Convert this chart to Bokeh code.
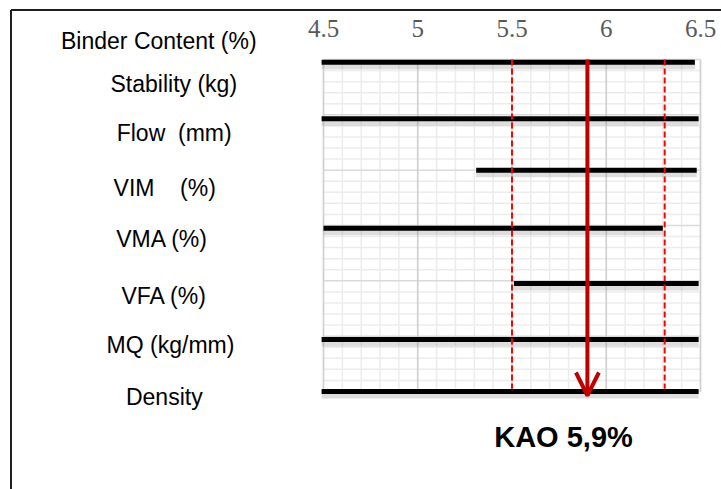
import numpy as np
from bokeh.plotting import figure
from bokeh.models import Range1d, Arrow, OpenHead
from bokeh.core.properties import value
from bokeh.embed import file_html
from bokeh.resources import INLINE

# ---------------- data ----------------
axis_title = "Binder Content (%)"
properties = ["Stability (kg)", "Flow\u00a0 (mm)", "VIM\u00a0\u00a0\u00a0 (%)", "VMA (%)",
              "VFA (%)", "MQ (kg/mm)", "Density"]
range_start = [4.49, 4.49, 5.31, 4.50, 5.51, 4.49, 4.49]
range_end = [6.47, 6.49, 6.48, 6.30, 6.49, 6.49, 6.49]
bar_row = [0.05, 1.07, 2.00, 3.05, 4.05, 5.06, 6.00]
tick_values = [4.5, 5.0, 5.5, 6.0, 6.5]
tick_labels = ["4.5", "5", "5.5", "6", "6.5"]
limit_lines = [5.5, 6.31]
optimum = 5.9
optimum_label = "KAO 5,9%"

# ---------------- layout ----------------
W, H = 721, 489
X0PX, XS = 323.0, 188.5     # page px of x=4.5, px per unit
Y0PX, YS = 59.0, 55.33      # page px of y=0, px per unit (downwards)


def dx(wx):
    return 4.5 + (wx - X0PX) / XS


def dy(wy):
    return (wy - Y0PX) / YS


p = figure(width=W, height=H,
           x_range=Range1d(dx(0), dx(W)),
           y_range=Range1d(dy(H), dy(0)),
           output_backend="svg", toolbar_location=None,
           x_axis_location=None, y_axis_location=None,
           min_border=0, outline_line_color=None,
           background_fill_color="white", border_fill_color="white")
p.xgrid.visible = False
p.ygrid.visible = False

g_left, g_right = tick_values[0], tick_values[-1]
g_top, g_bottom = 0, 6

# minor grid
x_minor = [round(v, 2) for v in np.arange(g_left, g_right + 1e-6, 0.1)
           if min(abs(v - t) for t in tick_values) > 1e-6]
y_minor = [round(v, 2) for v in np.arange(g_top, g_bottom + 1e-6, 0.2)
           if abs(v - round(v)) > 1e-6]
y_major = list(range(g_top, g_bottom + 1))

p.segment(x0=x_minor, y0=[g_top] * len(x_minor), x1=x_minor,
          y1=[g_bottom] * len(x_minor), line_color="#ececec", line_width=1.5)
p.segment(x0=[g_left] * len(y_minor), y0=y_minor, x1=[g_right] * len(y_minor),
          y1=y_minor, line_color="#ececec", line_width=1.5)
# major grid
p.segment(x0=[g_left] * len(y_major), y0=y_major, x1=[g_right] * len(y_major),
          y1=y_major, line_color="#dadada", line_width=1.5)
p.segment(x0=tick_values, y0=[g_top] * len(tick_values), x1=tick_values,
          y1=[g_bottom] * len(tick_values), line_color="#d0d0d0", line_width=1.7)

# bar shadows
shadow_dy = 3.0 / YS
p.segment(x0=range_start, y0=[b + shadow_dy for b in bar_row],
          x1=range_end, y1=[b + shadow_dy for b in bar_row],
          line_color="#7a7a7a", line_alpha=0.25, line_width=8)
# bars
p.segment(x0=range_start, y0=bar_row, x1=range_end, y1=bar_row,
          line_color="black", line_width=5, line_cap="butt")

# limit lines
p.segment(x0=limit_lines, y0=[g_top] * 2, x1=limit_lines, y1=[5.95] * 2,
          line_color="#ff0000", line_width=2, line_dash="6 3")

# optimum arrow
p.add_layout(Arrow(end=OpenHead(size=23, line_color="#c00000", line_width=4),
                   x_start=optimum, y_start=g_top, x_end=optimum, y_end=dy(395),
                   line_color="#c00000", line_width=4))

# tick labels
p.text(x=tick_values, y=[g_top] * len(tick_values), text=tick_labels,
       y_offset=-31.5, text_font=value("Liberation Serif"),
       text_font_size="25px", text_color="#595959",
       text_align="center", text_baseline="alphabetic")

# row labels
label_cx = [158.3, 173.3, 173.7, 164.2, 161.7, 163.8, 170.0, 163.8]
label_by = [48.3, 90.7, 140.0, 195.0, 246.0, 302.7, 351.7, 404.0]
p.text(x=[dx(c) for c in label_cx], y=[dy(b) for b in label_by],
       text=[axis_title] + properties, y_offset=-7.5,
       text_font=value("Liberation Sans"), text_font_size="23px",
       text_color="black", text_align="center", text_baseline="alphabetic")

# optimum label
p.text(x=[dx(563)], y=[dy(448.3)], text=[optimum_label], y_offset=-11.5,
       text_font=value("Liberation Sans"), text_font_size="29px",
       text_font_style="bold", text_color="black",
       text_align="center", text_baseline="alphabetic")

# frame lines (top and left)
p.segment(x0=[dx(10.5), dx(10.5)], y0=[dy(9.5), dy(9.5)],
          x1=[dx(W), dx(10.5)], y1=[dy(9.5), dy(H)],
          line_color="#1e1e1e", line_width=2)

open("out.html", "w").write(file_html(p, INLINE))
